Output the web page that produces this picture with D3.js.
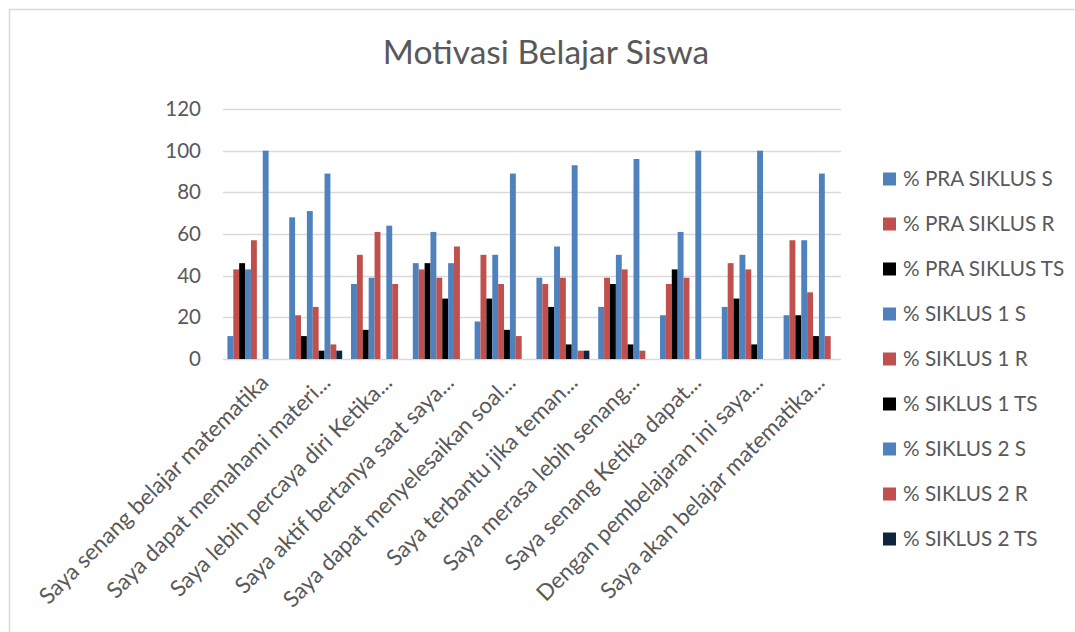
<!DOCTYPE html>
<html>
<head>
<meta charset="utf-8">
<script src="https://cdn.jsdelivr.net/npm/d3@7"></script>
<style>
  html, body { margin: 0; padding: 0; background: #fff; }
  svg { display: block; font-family: Lato, "Open Sans", sans-serif; }
</style>
</head>
<body>
<svg id="chart" width="1075" height="632"></svg>
<script>
const categories = [
  "Saya senang belajar matematika",
  "Saya dapat memahami materi...",
  "Saya lebih percaya diri Ketika...",
  "Saya aktif bertanya saat saya...",
  "Saya dapat menyelesaikan soal...",
  "Saya terbantu jika teman...",
  "Saya merasa lebih senang...",
  "Saya senang Ketika dapat...",
  "Dengan pembelajaran ini saya...",
  "Saya akan belajar matematika..."
];
const seriesNames = [
  "% PRA SIKLUS S", "% PRA SIKLUS R", "% PRA SIKLUS TS",
  "% SIKLUS 1 S", "% SIKLUS 1 R", "% SIKLUS 1 TS",
  "% SIKLUS 2 S", "% SIKLUS 2 R", "% SIKLUS 2 TS"
];
const seriesColors = ["#4F81BD", "#C0504D", "#000000", "#4F81BD", "#C0504D", "#000000", "#4F81BD", "#C0504D", "#0F243E"];

const praS   = [11, 68, 36, 46, 18, 39, 25, 21, 25, 21];
const praR   = [43, 21, 50, 43, 50, 36, 39, 36, 46, 57];
const praTS  = [46, 11, 14, 46, 29, 25, 36, 43, 29, 21];
const s1S    = [43, 71, 39, 61, 50, 54, 50, 61, 50, 57];
const s1R    = [57, 25, 61, 39, 36, 39, 43, 39, 43, 32];
const s1TS   = [0, 4, 0, 29, 14, 7, 7, 0, 7, 11];
const s2S    = [100, 89, 64, 46, 89, 93, 96, 100, 100, 89];
const s2R    = [0, 7, 36, 54, 11, 4, 4, 0, 0, 11];
const s2TS   = [0, 4, 0, 0, 0, 4, 0, 0, 0, 0];
const seriesValues = [praS, praR, praTS, s1S, s1R, s1TS, s2S, s2R, s2TS];
const yTicks = [0, 20, 40, 60, 80, 100, 120];

const svg = d3.select("#chart");
const textColor = "#595959";
const gridColor = "#D9D9D9";

// chart border
svg.append("rect")
  .attr("x", 9.5).attr("y", 9.5)
  .attr("width", 1100).attr("height", 700)
  .attr("fill", "none").attr("stroke", gridColor).attr("stroke-width", 1.5);

const plot = { left: 223, right: 841, top: 109, bottom: 359 };

const x = d3.scaleBand().domain(categories).range([plot.left, plot.right]).padding(0);
const bw = x.bandwidth() / 10.5;
const x1 = d3.scaleBand().domain(seriesNames)
  .range([0.75 * bw, x.bandwidth() - 0.75 * bw]).padding(0);
const y = d3.scaleLinear().domain([0, 120]).range([plot.bottom, plot.top]);

// title
svg.append("text")
  .attr("x", 546).attr("y", 64)
  .attr("text-anchor", "middle")
  .attr("fill", textColor)
  .attr("font-size", 33.5)
  .text("Motivasi Belajar Siswa");

// gridlines
svg.append("g").selectAll("line").data(yTicks).join("line")
  .attr("x1", plot.left).attr("x2", plot.right)
  .attr("y1", d => Math.round(y(d)) + 0.5).attr("y2", d => Math.round(y(d)) + 0.5)
  .attr("stroke", gridColor).attr("stroke-width", 1.3);

// y axis labels
const yAxis = d3.axisLeft(y).tickValues(yTicks).tickSize(0).tickPadding(0);
const yg = svg.append("g").attr("transform", `translate(201,0)`).call(yAxis);
yg.select(".domain").remove();
yg.selectAll("text").attr("fill", textColor).attr("font-size", 20.5)
  .attr("font-family", "Lato, 'Open Sans', sans-serif");

// bars
const groups = svg.append("g").selectAll("g").data(categories).join("g")
  .attr("transform", d => `translate(${x(d)},0)`);
groups.selectAll("rect")
  .data((c, ci) => seriesNames.map((s, si) => ({ s, si, v: seriesValues[si][ci] })))
  .join("rect")
  .attr("x", d => x1(d.s))
  .attr("width", x1.bandwidth())
  .attr("y", d => y(d.v))
  .attr("height", d => y(0) - y(d.v))
  .attr("fill", d => seriesColors[d.si]);

// x labels
svg.append("g").selectAll("text").data(categories).join("text")
  .attr("transform", d => `translate(${x(d) + x.bandwidth() / 2 + 16},384) rotate(-45)`)
  .attr("text-anchor", "end")
  .attr("fill", textColor)
  .attr("font-size", 22.5)
  .text(d => d);

// legend
const legend = svg.append("g").selectAll("g").data(seriesNames).join("g")
  .attr("transform", (d, i) => `translate(883,${179 + i * 45})`);
legend.append("rect")
  .attr("x", 0).attr("y", -6.5).attr("width", 13).attr("height", 13)
  .attr("fill", (d, i) => seriesColors[i]);
legend.append("text")
  .attr("x", 20).attr("y", 0).attr("dy", "0.35em")
  .attr("fill", textColor).attr("font-size", 20.7)
  .text(d => d);
</script>
</body>
</html>
